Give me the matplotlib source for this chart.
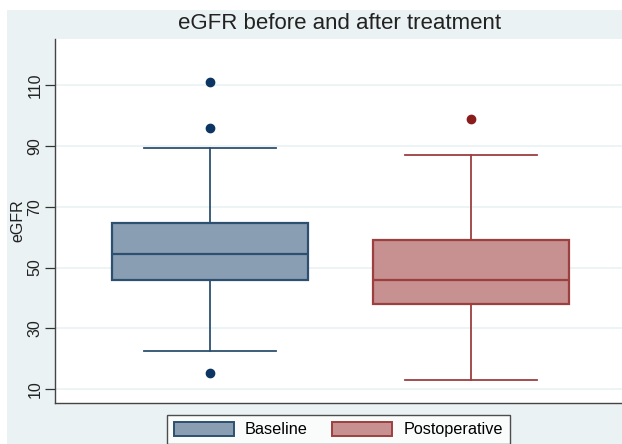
import matplotlib.pyplot as plt
from matplotlib.patches import Patch, Rectangle

plt.rcParams['font.family'] = ['Liberation Sans', 'DejaVu Sans']

# values
groups = ['Baseline', 'Postoperative']
q1 = [45.9, 38.1]
median = [54.6, 46.0]
q3 = [64.8, 59.1]
whislo = [22.4, 13.0]
whishi = [89.5, 87.1]
outliers = [[111.2, 96.0, 15.2], [99.0]]
yticks = [10, 30, 50, 70, 90, 110]

fills = ['#8a9eb3', '#c69190']
edges = ['#2d5070', '#9c3f3f']
dots = ['#0d3563', '#8b1c1c']
bg = '#eaf2f3'

W, H = 622, 444
fig = plt.figure(figsize=(W / 100, H / 100), dpi=100)
fig.patch.set_facecolor('white')
# stata-like outer region
fig.add_artist(Rectangle((7 / W, 0), 1, 1 - 10 / H, transform=fig.transFigure,
                         facecolor=bg, edgecolor='none', zorder=-5))

ax = fig.add_axes([55 / W, 1 - 403 / H, 1 - 55 / W, (403 - 38.5) / H])
ax.set_facecolor('white')

for i in range(len(groups)):
    st = [{'med': median[i], 'q1': q1[i], 'q3': q3[i], 'whislo': whislo[i],
           'whishi': whishi[i], 'fliers': outliers[i], 'label': groups[i]}]
    ax.bxp(st, positions=[i + 1], widths=0.75, patch_artist=True, showcaps=True,
           boxprops=dict(facecolor=fills[i], edgecolor=edges[i], linewidth=1.6),
           medianprops=dict(color=edges[i], linewidth=1.6),
           whiskerprops=dict(color=edges[i], linewidth=1.3),
           capprops=dict(color=edges[i], linewidth=1.3),
           capwidths=0.505,
           flierprops=dict(marker='o', markerfacecolor=dots[i], markeredgecolor=dots[i],
                           markersize=6))

ax.set_xlim(0.407, 2.577)
ax.set_ylim(5.39, 125.4)
ax.set_xticks([])
ax.set_yticks(yticks)
ax.set_yticklabels([str(t) for t in yticks], rotation=90, va='center', fontsize=11.5,
                   color='#222222')
ax.tick_params(axis='y', length=7, width=0.9, color='#333333', pad=2)
ax.grid(axis='y', color=bg, linewidth=1.2)
ax.set_axisbelow(True)
for s in ['top', 'right']:
    ax.spines[s].set_visible(False)
for s in ['left', 'bottom']:
    ax.spines[s].set_color('#444444')
    ax.spines[s].set_linewidth(1.0)
ax.set_ylabel('eGFR', fontsize=11.5, color='#222222')
ax.yaxis.set_label_coords(25 / W, 1 - 221 / H, transform=fig.transFigure)

fig.text(340 / W, 1 - 29 / H, 'eGFR before and after treatment', ha='center', va='baseline',
         fontsize=16, color='#222222')

handles = [Patch(facecolor=fills[i], edgecolor=edges[i], linewidth=1.4, label=groups[i])
           for i in range(len(groups))]
leg = fig.legend(handles=handles, loc='upper left', bbox_to_anchor=(167 / W, 1 - 415 / H),
                 ncol=2, frameon=True, fancybox=False, fontsize=11.7, handlelength=3.7,
                 handleheight=0.95, columnspacing=1.5, handletextpad=0.7,
                 borderpad=0.4, borderaxespad=0)
leg.get_frame().set_edgecolor('#222222')
leg.get_frame().set_linewidth(1.0)

fig.savefig('out.png', dpi=100)
